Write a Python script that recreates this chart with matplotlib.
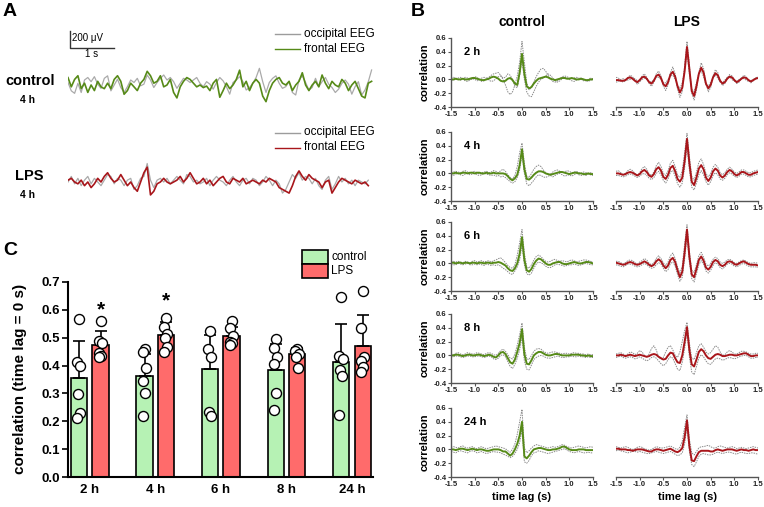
import numpy as np
import matplotlib
matplotlib.use("Agg")
import matplotlib.pyplot as plt
from matplotlib.lines import Line2D
from matplotlib.patches import Rectangle

plt.rcParams["font.family"] = ["Liberation Sans", "DejaVu Sans"]

# ---------------- panel A: 4 h EEG snippets (uV), one sample / 75 ms
dt = 0.075
ctrl_frontal = [89, -22, 67, 111, -44, 22, -89, 0, -67, 44,
                -22, -44, 22, -44, 67, 111, 44, -111, -67, 22,
                -22, -67, 22, 67, 164, 111, 22, 44, 111, -22,
                0, 67, -89, -155, -22, 44, 89, 67, 22, -22,
                0, -31, -13, -67, 22, 67, -147, -67, 22, -44,
                0, 67, 178, -22, 44, -67, 22, 67, 22, -133,
                -200, -67, 22, 67, 89, 22, 0, 44, -67, 0,
                44, 147, 0, -67, 0, 44, -22, 120, 22, -44,
                44, 0, -22, 67, 22, -67, 0, 44, -44, -133,
                -155, 22, 44]
ctrl_occipital = [30, -70, -100, 20, -90, 60, 90, 40, 100, 10,
                  -40, 80, 110, -70, 0, 70, -30, -90, -20, 60,
                  30, 80, -10, 10, 120, 60, -30, 30, 80, 120,
                  60, 90, 40, -40, 20, 80, 60, 30, 60, 90,
                  20, -20, 40, 10, -50, 30, 90, 50, -20, -110,
                  30, 60, 100, 40, -60, -30, 20, 90, 200, 40,
                  -90, 30, 80, 110, 20, -40, -20, 40, -90, -120,
                  60, 110, 30, -60, -30, 80, -20, 40, 90, 10,
                  -30, -90, -50, 20, 60, 10, -110, -20, 40, -120,
                  -60, 40, 180]
lps_frontal = [22, 44, 0, -22, 22, -44, 0, -67, -22, 44,
               0, 67, 111, 44, 0, 22, 89, 22, -44, 0,
               -67, -111, 0, 111, 178, -155, -111, -22, 0, 44,
               0, -22, 0, 22, 67, 0, 44, 111, 44, -22,
               0, 44, -22, 22, -44, 0, 44, 67, 0, -22,
               44, 22, 0, 44, -22, 0, 22, 0, -22, 22,
               0, 44, 22, 0, -67, -89, -111, -133, -44, 67,
               133, 67, 22, 89, 44, 22, 0, -67, 0, 22,
               -133, -67, 0, 44, 22, 0, -22, 22, 0, -22,
               0, -44]
lps_occipital = [0, 67, -22, 44, -44, 22, 67, -22, 44, 0,
                 -44, 22, 89, 67, -22, 44, 22, -44, 22, 44,
                 -89, -44, 44, 67, 222, 22, -67, 22, 44, 0,
                 44, -22, 22, 67, 22, -22, 89, 67, 0, 22,
                 -22, 0, 44, -44, 22, 67, 22, 0, -44, 22,
                 67, 0, -44, 22, 44, -22, 44, 22, -44, 0,
                 67, 22, -44, 22, -22, -133, -89, 0, 89, 44,
                 111, 22, 67, 44, -22, 44, -44, -89, 22, 67,
                 -89, -22, 67, 0, 44, -22, 22, -44, 22, 0,
                 -22, 22]

# ---------------- panel B: cross-correlation, lag -1.5 .. 1.5 s (50 ms steps)
# mean curve + two single animals per panel
ctrl2_mean = [0.00, 0.00, 0.01, 0.00, 0.00, 0.01, 0.00, 0.00, 0.01, 0.02,
              0.02, 0.01, 0.00, -0.01, -0.01, 0.00, 0.01, 0.03, 0.04, 0.03,
              0.01, -0.02, -0.03, -0.02, 0.01, 0.02, -0.01, -0.06, -0.08, 0.10,
              0.37, 0.08, -0.10, -0.13, -0.11, -0.06, -0.02, 0.01, 0.02, 0.03,
              0.04, 0.03, 0.01, 0.00, -0.01, 0.00, 0.01, 0.02, 0.02, 0.01,
              0.01, 0.02, 0.01, 0.00, 0.00, 0.01, 0.00, -0.01, -0.01, 0.00,
              0.00]
ctrl2_a = [0.02, 0.03, 0.02, 0.00, -0.01, 0.01, 0.03, 0.02, 0.00, 0.01,
           0.04, 0.03, 0.00, -0.03, -0.02, 0.01, 0.03, 0.06, 0.08, 0.09,
           0.10, 0.06, 0.00, -0.08, -0.18, -0.22, -0.18, -0.08, 0.05, 0.25,
           0.55, 0.25, -0.05, -0.15, -0.12, -0.04, 0.04, 0.10, 0.15, 0.16,
           0.12, 0.06, 0.01, -0.03, -0.04, -0.02, 0.01, 0.04, 0.05, 0.04,
           0.02, 0.01, 0.02, 0.03, 0.02, 0.00, -0.02, -0.02, 0.00, 0.02,
           0.01]
ctrl2_b = [-0.02, -0.01, 0.00, 0.02, 0.03, 0.01, -0.02, -0.03, -0.01, 0.01,
           0.00, -0.02, -0.01, 0.02, 0.03, 0.02, -0.01, -0.03, -0.02, 0.01,
           0.04, 0.05, 0.02, 0.03, 0.08, 0.06, 0.00, -0.10, -0.12, 0.05,
           0.28, 0.00, -0.18, -0.24, -0.25, -0.18, -0.10, -0.04, 0.00, 0.02,
           0.05, 0.08, 0.06, 0.02, -0.02, -0.04, -0.02, 0.01, 0.03, 0.02,
           0.00, -0.02, -0.03, -0.01, 0.01, 0.02, 0.00, -0.02, -0.03, -0.01,
           0.00]
lps2_mean = [-0.01, -0.01, -0.02, -0.02, -0.01, 0.02, 0.03, 0.01, -0.02, -0.04,
             -0.01, 0.03, 0.04, 0.01, -0.04, -0.06, -0.02, 0.05, 0.07, 0.02,
             -0.07, -0.10, -0.04, 0.07, 0.11, 0.04, -0.10, -0.19, -0.12, 0.12,
             0.47, 0.15, -0.17, -0.24, -0.10, 0.08, 0.17, 0.10, -0.06, -0.13,
             -0.08, 0.03, 0.09, 0.06, -0.02, -0.06, -0.04, 0.01, 0.04, 0.03,
             -0.01, -0.04, -0.02, 0.01, 0.03, 0.02, -0.01, -0.03, -0.01, 0.01,
             0.02]
lps2_a = [0.03, 0.02, -0.02, -0.04, -0.02, 0.03, 0.06, 0.04, -0.02, -0.07,
          -0.04, 0.05, 0.08, 0.03, -0.06, -0.10, -0.04, 0.08, 0.12, 0.05,
          -0.10, -0.16, -0.08, 0.10, 0.18, 0.08, -0.14, -0.26, -0.18, 0.20,
          0.55, 0.22, -0.20, -0.30, -0.16, 0.10, 0.24, 0.16, -0.05, -0.18,
          -0.12, 0.05, 0.14, 0.10, -0.02, -0.09, -0.06, 0.02, 0.07, 0.05,
          0.00, -0.06, -0.04, 0.02, 0.06, 0.04, -0.02, -0.05, -0.02, 0.02,
          0.04]
lps2_b = [-0.04, -0.03, 0.00, 0.01, 0.00, -0.01, 0.00, 0.02, 0.01, -0.02,
          -0.03, 0.00, 0.02, 0.00, -0.03, -0.04, 0.00, 0.03, 0.03, 0.00,
          -0.05, -0.05, 0.00, 0.05, 0.06, 0.00, -0.08, -0.13, -0.05, 0.15,
          0.38, 0.08, -0.14, -0.18, -0.05, 0.09, 0.12, 0.04, -0.08, -0.10,
          -0.04, 0.03, 0.06, 0.02, -0.04, -0.05, -0.01, 0.03, 0.03, 0.00,
          -0.03, -0.03, 0.00, 0.02, 0.01, -0.01, -0.03, -0.02, 0.00, 0.02,
          0.01]

ctrl4_mean = [0.00, 0.00, 0.01, 0.00, 0.00, 0.01, 0.01, 0.00, 0.01, 0.01,
              0.00, 0.01, 0.01, 0.00, 0.00, 0.01, 0.00, 0.00, 0.01, 0.00,
              0.00, 0.00, 0.00, -0.01, -0.04, -0.08, -0.10, -0.07, -0.02, 0.12,
              0.35, 0.06, -0.08, -0.09, -0.06, -0.02, 0.01, 0.03, 0.03, 0.02,
              0.00, -0.01, -0.02, -0.01, 0.00, 0.01, 0.02, 0.02, 0.01, 0.00,
              -0.01, 0.00, 0.01, 0.01, 0.00, 0.00, -0.01, -0.01, 0.00, -0.01,
              -0.01]
ctrl4_a = [0.01, 0.02, 0.03, 0.02, 0.01, 0.03, 0.04, 0.02, 0.00, 0.02,
           0.03, 0.01, -0.01, 0.01, 0.02, 0.03, 0.01, 0.02, 0.04, 0.03,
           0.01, 0.04, 0.06, 0.03, -0.02, -0.06, -0.08, -0.03, 0.10, 0.30,
           0.44, 0.15, -0.04, -0.06, 0.00, 0.06, 0.10, 0.12, 0.10, 0.05,
           0.01, -0.02, -0.01, 0.02, 0.04, 0.05, 0.03, 0.01, 0.02, 0.04,
           0.03, 0.01, 0.02, 0.03, 0.01, 0.00, 0.02, 0.01, 0.00, 0.01,
           0.00]
ctrl4_b = [-0.02, -0.03, -0.01, 0.00, -0.02, -0.03, -0.01, 0.00, -0.02, -0.01,
           0.00, -0.02, -0.03, -0.02, 0.00, -0.01, -0.02, -0.03, -0.02, -0.04,
           -0.03, -0.05, -0.04, -0.06, -0.09, -0.12, -0.14, -0.12, -0.06, 0.05,
           0.28, 0.00, -0.15, -0.18, -0.14, -0.10, -0.05, -0.02, -0.03, -0.05,
           -0.06, -0.04, -0.03, -0.05, -0.03, -0.01, 0.00, -0.02, -0.04, -0.03,
           -0.02, -0.04, -0.02, 0.00, -0.02, -0.03, -0.02, -0.03, -0.01, -0.02,
           -0.03]
lps4_mean = [0.00, 0.00, -0.01, -0.02, -0.01, 0.01, 0.02, 0.01, -0.01, -0.03,
             -0.01, 0.03, 0.05, 0.02, -0.03, -0.05, -0.01, 0.06, 0.09, 0.04,
             -0.05, -0.08, -0.02, 0.08, 0.11, 0.03, -0.08, -0.12, -0.06, 0.18,
             0.50, 0.15, -0.12, -0.17, -0.06, 0.07, 0.12, 0.06, -0.06, -0.11,
             -0.06, 0.03, 0.07, 0.04, -0.03, -0.06, -0.03, 0.02, 0.05, 0.03,
             -0.01, -0.03, -0.01, 0.02, 0.02, 0.00, -0.02, -0.02, 0.00, 0.01,
             0.02]
lps4_a = [0.03, 0.04, 0.01, -0.02, 0.00, 0.04, 0.06, 0.04, 0.00, -0.03,
          0.01, 0.07, 0.10, 0.06, -0.01, -0.03, 0.02, 0.11, 0.16, 0.10,
          0.00, -0.03, 0.04, 0.15, 0.19, 0.10, -0.02, -0.06, 0.04, 0.30,
          0.58, 0.25, -0.04, -0.10, 0.02, 0.16, 0.21, 0.13, 0.00, -0.05,
          0.00, 0.09, 0.13, 0.09, 0.01, -0.02, 0.01, 0.06, 0.09, 0.06,
          0.02, 0.00, 0.02, 0.05, 0.05, 0.03, 0.01, 0.01, 0.03, 0.04,
          0.05]
lps4_b = [-0.03, -0.03, -0.04, -0.05, -0.04, -0.02, -0.01, -0.02, -0.04, -0.06,
          -0.04, -0.01, 0.00, -0.03, -0.07, -0.09, -0.06, 0.00, 0.03, -0.02,
          -0.10, -0.14, -0.08, 0.02, 0.04, -0.04, -0.15, -0.20, -0.14, 0.08,
          0.40, 0.05, -0.20, -0.24, -0.14, -0.02, 0.04, -0.02, -0.12, -0.17,
          -0.12, -0.03, 0.01, -0.02, -0.08, -0.10, -0.07, -0.02, 0.01, -0.01,
          -0.04, -0.06, -0.04, -0.01, -0.01, -0.03, -0.05, -0.05, -0.03, -0.02,
          -0.01]

ctrl6_mean = [0.01, 0.01, 0.00, 0.01, 0.01, 0.00, 0.01, 0.01, 0.00, 0.01,
              0.01, 0.00, 0.01, 0.01, 0.00, 0.01, 0.01, 0.00, 0.01, 0.01,
              0.02, 0.01, -0.01, -0.03, -0.07, -0.10, -0.11, -0.07, 0.00, 0.14,
              0.38, 0.05, -0.10, -0.12, -0.08, -0.01, 0.04, 0.07, 0.06, 0.03,
              0.00, -0.02, -0.02, 0.00, 0.01, 0.02, 0.02, 0.00, -0.01, -0.01,
              0.00, 0.01, 0.02, 0.01, 0.00, 0.00, 0.01, 0.02, 0.02, 0.01,
              0.00]
ctrl6_a = [0.02, 0.03, 0.02, 0.03, 0.02, 0.01, 0.03, 0.02, 0.01, 0.03,
           0.04, 0.02, 0.03, 0.04, 0.02, 0.03, 0.04, 0.02, 0.04, 0.05,
           0.07, 0.08, 0.05, 0.01, -0.03, -0.06, -0.07, -0.02, 0.12, 0.30,
           0.49, 0.15, -0.05, -0.07, -0.02, 0.05, 0.10, 0.12, 0.10, 0.06,
           0.03, 0.02, 0.03, 0.05, 0.06, 0.04, 0.03, 0.04, 0.03, 0.02,
           0.04, 0.05, 0.04, 0.02, 0.03, 0.04, 0.05, 0.05, 0.04, 0.03,
           0.02]
ctrl6_b = [-0.01, -0.02, -0.02, 0.00, -0.01, -0.02, -0.01, 0.00, -0.02, -0.02,
           -0.01, -0.02, -0.01, -0.02, -0.03, -0.01, -0.02, -0.03, -0.02, -0.03,
           -0.02, -0.04, -0.07, -0.09, -0.12, -0.15, -0.16, -0.11, -0.05, 0.05,
           0.27, -0.02, -0.15, -0.17, -0.14, -0.07, -0.01, 0.02, 0.01, -0.01,
           -0.04, -0.06, -0.06, -0.04, -0.02, -0.01, -0.02, -0.03, -0.04, -0.03,
           -0.02, -0.02, -0.01, -0.02, -0.03, -0.02, -0.01, 0.00, -0.01, -0.02,
           -0.02]
lps6_mean = [0.01, 0.00, -0.01, -0.02, -0.01, 0.01, 0.02, 0.01, -0.01, -0.02,
             -0.01, 0.01, 0.03, 0.01, -0.02, -0.04, -0.02, 0.03, 0.06, 0.03,
             -0.03, -0.07, -0.03, 0.05, 0.08, 0.02, -0.10, -0.20, -0.12, 0.16,
             0.49, 0.10, -0.16, -0.20, -0.08, 0.05, 0.10, 0.04, -0.06, -0.09,
             -0.05, 0.02, 0.05, 0.03, -0.02, -0.04, -0.02, 0.02, 0.03, 0.02,
             -0.01, -0.02, 0.00, 0.02, 0.03, 0.01, -0.01, -0.02, -0.02, -0.02,
             -0.03]
lps6_a = [0.03, 0.03, 0.01, -0.01, 0.01, 0.04, 0.05, 0.04, 0.01, -0.01,
          0.02, 0.04, 0.07, 0.05, 0.00, -0.02, 0.01, 0.07, 0.11, 0.07,
          0.01, -0.03, 0.02, 0.11, 0.15, 0.07, -0.05, -0.14, -0.04, 0.28,
          0.56, 0.18, -0.10, -0.13, -0.02, 0.11, 0.16, 0.09, -0.01, -0.04,
          0.00, 0.06, 0.09, 0.07, 0.02, 0.00, 0.02, 0.05, 0.06, 0.04,
          0.01, 0.00, 0.02, 0.04, 0.05, 0.03, 0.01, 0.00, 0.01, 0.01,
          0.00]
lps6_b = [-0.02, -0.03, -0.04, -0.05, -0.03, -0.01, -0.01, -0.02, -0.04, -0.05,
          -0.04, -0.02, 0.00, -0.02, -0.05, -0.07, -0.06, -0.02, 0.01, -0.01,
          -0.07, -0.12, -0.09, 0.00, 0.02, -0.04, -0.16, -0.26, -0.20, 0.06,
          0.40, 0.02, -0.22, -0.27, -0.15, -0.02, 0.04, -0.01, -0.11, -0.14,
          -0.10, -0.03, 0.01, -0.01, -0.06, -0.08, -0.05, -0.01, 0.00, -0.01,
          -0.04, -0.05, -0.03, -0.01, 0.00, -0.02, -0.04, -0.05, -0.05, -0.05,
          -0.06]

ctrl8_mean = [0.00, 0.00, 0.01, 0.01, 0.00, -0.01, 0.00, 0.01, 0.01, 0.00,
              0.00, 0.01, 0.01, 0.00, -0.01, 0.00, 0.01, 0.00, -0.02, -0.03,
              0.00, 0.04, 0.05, 0.02, -0.04, -0.10, -0.12, -0.06, 0.05, 0.18,
              0.38, 0.02, -0.12, -0.13, -0.07, 0.00, 0.03, 0.05, 0.05, 0.03,
              0.01, 0.00, 0.00, 0.01, 0.02, 0.02, 0.01, 0.00, 0.00, 0.00,
              0.00, 0.01, 0.01, 0.01, 0.01, 0.00, 0.00, -0.01, 0.00, -0.01,
              -0.01]
ctrl8_a = [0.02, 0.01, 0.03, 0.04, 0.02, 0.01, 0.02, 0.04, 0.03, 0.02,
           0.02, 0.04, 0.03, 0.02, 0.01, 0.03, 0.04, 0.03, 0.01, 0.00,
           0.03, 0.07, 0.09, 0.06, 0.01, -0.04, -0.05, 0.02, 0.15, 0.30,
           0.47, 0.12, -0.05, -0.06, 0.00, 0.06, 0.09, 0.10, 0.09, 0.06,
           0.04, 0.03, 0.04, 0.05, 0.05, 0.04, 0.03, 0.02, 0.03, 0.03,
           0.02, 0.03, 0.04, 0.03, 0.03, 0.02, 0.02, 0.01, 0.02, 0.01,
           0.01]
ctrl8_b = [-0.02, -0.02, -0.01, -0.01, -0.02, -0.03, -0.02, -0.01, -0.01, -0.02,
           -0.02, -0.01, -0.01, -0.02, -0.03, -0.02, -0.01, -0.02, -0.05, -0.06,
           -0.04, 0.00, 0.01, -0.02, -0.09, -0.16, -0.19, -0.13, -0.04, 0.08,
           0.27, -0.08, -0.20, -0.21, -0.14, -0.06, -0.03, -0.01, 0.00, -0.01,
           -0.03, -0.04, -0.04, -0.03, -0.02, -0.01, -0.02, -0.03, -0.03, -0.02,
           -0.02, -0.01, -0.02, -0.02, -0.01, -0.02, -0.02, -0.03, -0.02, -0.03,
           -0.03]
lps8_mean = [0.00, 0.00, 0.01, 0.00, -0.01, 0.00, 0.01, 0.00, -0.01, 0.00,
             0.01, 0.00, -0.01, -0.02, -0.01, 0.01, 0.02, 0.01, -0.02, -0.04,
             -0.06, -0.05, 0.00, 0.04, 0.03, -0.04, -0.10, -0.11, 0.00, 0.20,
             0.41, 0.08, -0.13, -0.16, -0.06, 0.05, 0.09, 0.06, 0.00, -0.04,
             -0.05, -0.02, 0.01, 0.02, 0.01, -0.01, -0.01, 0.00, 0.01, 0.01,
             0.00, 0.00, 0.01, 0.02, 0.03, 0.03, 0.01, -0.01, -0.01, 0.00,
             0.00]
lps8_a = [0.02, 0.03, 0.04, 0.02, 0.00, 0.02, 0.05, 0.04, 0.01, 0.03,
          0.07, 0.05, 0.00, -0.03, 0.02, 0.10, 0.14, 0.08, -0.02, -0.06,
          -0.03, 0.05, 0.12, 0.14, 0.08, 0.00, -0.03, 0.05, 0.20, 0.36,
          0.48, 0.18, -0.04, -0.06, 0.04, 0.14, 0.17, 0.12, 0.05, 0.02,
          0.04, 0.09, 0.14, 0.12, 0.05, 0.00, 0.01, 0.05, 0.07, 0.05,
          0.02, 0.02, 0.04, 0.06, 0.06, 0.05, 0.03, 0.02, 0.02, 0.03,
          0.03]
lps8_b = [-0.03, -0.02, -0.01, -0.03, -0.04, -0.03, -0.02, -0.03, -0.05, -0.04,
          -0.02, -0.04, -0.06, -0.08, -0.06, -0.03, -0.02, -0.04, -0.08, -0.12,
          -0.15, -0.12, -0.06, -0.02, -0.04, -0.12, -0.20, -0.22, -0.10, 0.10,
          0.34, -0.02, -0.24, -0.28, -0.16, -0.04, 0.01, -0.02, -0.08, -0.12,
          -0.13, -0.09, -0.05, -0.04, -0.05, -0.07, -0.06, -0.04, -0.03, -0.04,
          -0.05, -0.04, -0.02, -0.01, 0.00, 0.00, -0.02, -0.04, -0.04, -0.03,
          -0.03]

ctrl24_mean = [0.00, 0.00, -0.01, 0.00, 0.01, 0.01, 0.00, -0.01, 0.00, 0.01,
               0.00, -0.01, 0.00, 0.00, -0.01, -0.02, -0.02, -0.01, 0.00, 0.00,
               0.00, -0.01, -0.03, -0.03, -0.06, -0.09, -0.06, 0.00, 0.08, 0.20,
               0.40, -0.10, -0.13, -0.09, -0.04, 0.00, 0.01, 0.02, 0.02, 0.01,
               0.00, -0.01, -0.01, 0.00, 0.00, 0.01, 0.02, 0.04, 0.04, 0.02,
               0.00, -0.01, -0.01, -0.01, 0.00, 0.00, 0.00, -0.01, -0.01, -0.01,
               -0.01]
ctrl24_a = [0.03, 0.04, 0.03, 0.02, 0.04, 0.05, 0.03, 0.02, 0.03, 0.04,
            0.02, 0.01, 0.03, 0.04, 0.02, 0.01, 0.02, 0.03, 0.04, 0.05,
            0.04, 0.03, 0.02, 0.01, -0.02, -0.04, 0.00, 0.08, 0.22, 0.40,
            0.58, 0.02, -0.05, -0.02, 0.02, 0.05, 0.07, 0.06, 0.05, 0.04,
            0.03, 0.02, 0.03, 0.04, 0.03, 0.04, 0.05, 0.07, 0.06, 0.04,
            0.03, 0.02, 0.03, 0.04, 0.05, 0.04, 0.03, 0.02, 0.03, 0.04,
            0.03]
ctrl24_b = [-0.03, -0.04, -0.05, -0.03, -0.02, -0.03, -0.04, -0.05, -0.03, -0.02,
            -0.03, -0.05, -0.04, -0.03, -0.05, -0.06, -0.05, -0.04, -0.03, -0.04,
            -0.04, -0.05, -0.07, -0.08, -0.10, -0.12, -0.10, -0.06, 0.00, 0.10,
            0.28, -0.18, -0.20, -0.16, -0.09, -0.05, -0.04, -0.02, -0.03, -0.04,
            -0.05, -0.06, -0.05, -0.04, -0.03, -0.02, -0.01, 0.00, 0.01, -0.01,
            -0.03, -0.04, -0.05, -0.04, -0.03, -0.04, -0.05, -0.05, -0.04, -0.05,
            -0.05]
lps24_mean = [0.01, 0.01, 0.00, 0.00, 0.00, -0.01, -0.01, -0.02, -0.01, 0.00,
              0.00, 0.00, -0.01, -0.02, -0.03, -0.03, -0.01, 0.00, 0.00, -0.01,
              -0.02, -0.01, 0.00, 0.01, -0.01, -0.03, -0.04, -0.02, 0.02, 0.18,
              0.42, 0.05, -0.16, -0.17, -0.10, -0.04, -0.02, -0.02, -0.02, -0.02,
              -0.03, -0.03, -0.01, 0.00, -0.01, -0.02, -0.01, 0.00, 0.00, 0.00,
              -0.01, -0.02, -0.01, 0.00, -0.01, -0.01, -0.02, -0.01, 0.00, -0.01,
              -0.01]
lps24_a = [0.04, 0.03, 0.02, 0.03, 0.04, 0.03, 0.01, 0.00, 0.01, 0.03,
           0.04, 0.03, 0.01, 0.00, -0.01, 0.00, 0.02, 0.04, 0.03, 0.02,
           0.02, 0.03, 0.04, 0.05, 0.03, 0.01, 0.00, 0.03, 0.12, 0.32,
           0.50, 0.15, -0.05, -0.08, -0.03, 0.02, 0.04, 0.04, 0.05, 0.06,
           0.04, 0.02, 0.02, 0.04, 0.05, 0.04, 0.03, 0.02, 0.03, 0.04,
           0.03, 0.01, 0.02, 0.03, 0.02, 0.01, 0.02, 0.03, 0.04, 0.03,
           0.02]
lps24_b = [-0.02, -0.01, -0.02, -0.03, -0.04, -0.05, -0.04, -0.03, -0.03, -0.04,
           -0.03, -0.04, -0.05, -0.06, -0.06, -0.05, -0.04, -0.03, -0.04, -0.05,
           -0.06, -0.05, -0.04, -0.03, -0.05, -0.07, -0.09, -0.08, -0.05, 0.08,
           0.34, -0.03, -0.22, -0.25, -0.18, -0.10, -0.07, -0.06, -0.07, -0.08,
           -0.08, -0.07, -0.05, -0.04, -0.05, -0.06, -0.05, -0.04, -0.04, -0.05,
           -0.06, -0.07, -0.05, -0.04, -0.05, -0.06, -0.06, -0.05, -0.05, -0.06,
           -0.07]

# ---------------- panel C: correlation at lag 0
hours = ["2 h", "4 h", "6 h", "8 h", "24 h"]
ctrl_mean = [0.355, 0.362, 0.386, 0.385, 0.413]
lps_mean = [0.473, 0.511, 0.505, 0.443, 0.471]
ctrl_sd = [0.135, 0.080, 0.122, 0.091, 0.137]
lps_sd = [0.052, 0.046, 0.035, 0.020, 0.112]
ctrl_pts = [[0.568, 0.413, 0.400, 0.299, 0.230, 0.213],
            [0.460, 0.450, 0.390, 0.345, 0.300, 0.220],
            [0.524, 0.458, 0.430, 0.233, 0.218],
            [0.494, 0.464, 0.430, 0.405, 0.300, 0.240],
            [0.646, 0.433, 0.425, 0.383, 0.363, 0.222]]
lps_pts = [[0.560, 0.490, 0.480, 0.445, 0.435, 0.430],
           [0.572, 0.540, 0.515, 0.500, 0.467, 0.447],
           [0.560, 0.535, 0.506, 0.485, 0.480, 0.475],
           [0.460, 0.452, 0.443, 0.430, 0.390],
           [0.668, 0.535, 0.430, 0.416, 0.395, 0.377]]
signif = [True, True, False, False, False]

# ---------------- style
W, H = 764, 507
GREEN, RED = "#568a18", "#a8161b"
GRAY = "#9c9c9c"
BAR_G, BAR_R = "#b6f2b4", "#ff6b6b"

fig = plt.figure(figsize=(W / 100, H / 100), dpi=100)
fx = lambda x: x / W
fy = lambda y: 1 - y / H
px_axes = lambda l, t, r, b: fig.add_axes([l / W, 1 - b / H, (r - l) / W, (b - t) / H])

for s, x, y in [("A", 3, 12), ("B", 411, 12), ("C", 3, 250)]:
    fig.text(fx(x), fy(y), s, fontsize=14, fontweight="bold", va="center")

# ===== A
UVPX = 12.0                       # uV per pixel
axA = px_axes(68, 20, 376, 205)
axA.set_xlim(0, 308 / 44)
axA.set_ylim(-(205 - 85) * UVPX, (85 - 20) * UVPX)
axA.axis("off")
lps_off = -(182 - 85) * UVPX
for occ, fro, off, col in [(ctrl_occipital, ctrl_frontal, 0, GREEN),
                           (lps_occipital, lps_frontal, lps_off, RED)]:
    axA.plot(np.arange(len(occ)) * dt, np.asarray(occ) + off, color="#aaaaaa", lw=0.9)
    axA.plot(np.arange(len(fro)) * dt, np.asarray(fro) + off, color=col, lw=1.2)
# scale bar 200 uV / 1 s
x0, y0 = 2 / 44, (85 - 47.5) * UVPX
axA.plot([x0, x0, x0 + 1], [y0 + 200, y0, y0], color="#333333", lw=1)
fig.text(fx(72.5), fy(38), "200 μV", fontsize=7, va="center")
fig.text(fx(92), fy(54), "1 s", fontsize=7, va="center", ha="center")

for y, col, lab in [(34, GRAY, "occipital EEG"), (49, GREEN, "frontal EEG"),
                    (132.5, GRAY, "occipital EEG"), (147.5, RED, "frontal EEG")]:
    fig.add_artist(Line2D([fx(275), fx(300)], [fy(y), fy(y)], color=col, lw=1))
    fig.text(fx(304), fy(y), lab, fontsize=8.5, va="center")
fig.text(fx(5), fy(81), "control", fontsize=10.5, fontweight="bold", va="center")
fig.text(fx(20), fy(100), "4 h", fontsize=7.5, fontweight="bold", va="center")
fig.text(fx(15), fy(176), "LPS", fontsize=10.5, fontweight="bold", va="center")
fig.text(fx(20), fy(195), "4 h", fontsize=7.5, fontweight="bold", va="center")

# ===== B
rows = [("2 h", ctrl2_mean, ctrl2_a, ctrl2_b, lps2_mean, lps2_a, lps2_b),
        ("4 h", ctrl4_mean, ctrl4_a, ctrl4_b, lps4_mean, lps4_a, lps4_b),
        ("6 h", ctrl6_mean, ctrl6_a, ctrl6_b, lps6_mean, lps6_a, lps6_b),
        ("8 h", ctrl8_mean, ctrl8_a, ctrl8_b, lps8_mean, lps8_a, lps8_b),
        ("24 h", ctrl24_mean, ctrl24_a, ctrl24_b, lps24_mean, lps24_a, lps24_b)]
bottoms = [107, 201, 291, 383, 477]
AX_C = "#555555"
for (lab, cm, ca, cb, lm, la, lb), bot in zip(rows, bottoms):
    for left, m, a, b, col, first in [(451, cm, ca, cb, GREEN, True),
                                      (616, lm, la, lb, RED, False)]:
        ax = px_axes(left, bot - 69, left + 142, bot)
        lag = np.round(-1.5 + 0.05 * np.arange(len(m)), 2)
        for g in (a, b):
            ax.plot(lag, g, color="#8a8a8a", lw=0.7, ls=(0, (1.5, 1)))
        ax.plot(lag, m, color=col, lw=1.4)
        ax.set_xlim(-1.5, 1.5)
        ax.set_ylim(-0.4, 0.6)
        xt = np.arange(-1.5, 1.51, 0.5)
        ax.set_xticks(xt, [f"{abs(v):.1f}" if abs(v) < 1e-9 else f"{v:.1f}" for v in xt])
        for s in ("top", "right"):
            ax.spines[s].set_visible(False)
        for s in ("left", "bottom"):
            ax.spines[s].set_color(AX_C)
            ax.spines[s].set_linewidth(1.0)
        ax.tick_params(length=2, width=0.8, color=AX_C, labelsize=5.5, pad=1,
                       labelcolor="#222222")
        for t in ax.get_xticklabels() + ax.get_yticklabels():
            t.set_fontweight("bold")
        if first:
            yt = np.arange(-0.4, 0.61, 0.2)
            ax.set_yticks(yt, [f"{v:.1f}" if abs(v) > 1e-9 else "0.0" for v in yt])
            for t in ax.get_yticklabels():
                t.set_fontweight("bold")
            ax.text(0.09, 0.79, lab, transform=ax.transAxes, fontsize=8,
                    fontweight="bold", va="center")
            fig.text(fx(425), fy(bot - 34.5), "correlation", rotation=90, fontsize=8,
                     fontweight="bold", va="center", ha="center")
        else:
            ax.spines["left"].set_visible(False)
            ax.set_yticks([])
        ax.patch.set_alpha(0)
fig.text(fx(522), fy(22), "control", fontsize=10, fontweight="bold", ha="center", va="center")
fig.text(fx(687), fy(22), "LPS", fontsize=10, fontweight="bold", ha="center", va="center")
for x in (521, 687):
    fig.text(fx(x), fy(497), "time lag (s)", fontsize=8, fontweight="bold", ha="center", va="center")

# ===== C
axC = px_axes(68, 282, 373, 477)
x = np.arange(len(hours))
off, bw = 0.164, 0.25
jit = [0.0, -0.03, 0.02, -0.02, 0.01, -0.03]
for means, sds, pts, sgn, col in [(ctrl_mean, ctrl_sd, ctrl_pts, -1, BAR_G),
                                  (lps_mean, lps_sd, lps_pts, 1, BAR_R)]:
    xp = x + sgn * off
    axC.bar(xp, means, bw, color=col, edgecolor="black", lw=1.2, zorder=2)
    axC.errorbar(xp, means, yerr=[np.zeros(len(sds)), sds], fmt="none",
                 ecolor="black", elinewidth=1.2, capsize=4, capthick=1.2, zorder=3)
    for xi, p in zip(xp, pts):
        axC.scatter(xi + np.array(jit[:len(p)]), p, s=52, facecolor="white",
                    edgecolor="black", lw=1, zorder=4, clip_on=False)
for xi, s, m, sd in zip(x, signif, lps_mean, lps_sd):
    if s:
        axC.text(xi + off, m + sd + 0.075, "*", fontsize=15, fontweight="bold",
                 ha="center", va="center")
axC.set_xlim(-0.332, 4.32)
axC.set_ylim(0, 0.7)
axC.set_yticks(np.arange(0, 0.71, 0.1), [f"{v:.1f}" for v in np.arange(0, 0.71, 0.1)])
axC.set_xticks(x, hours)
for s in ("top", "right"):
    axC.spines[s].set_visible(False)
for s in ("left", "bottom"):
    axC.spines[s].set_linewidth(1.5)
axC.tick_params(axis="y", length=4, width=1.2, labelsize=9.5, pad=2)
axC.tick_params(axis="x", length=0, labelsize=9.5, pad=5)
for t in axC.get_xticklabels() + axC.get_yticklabels():
    t.set_fontweight("bold")
fig.text(fx(20), fy(379), "correlation (time lag = 0 s)", rotation=90, fontsize=11,
         fontweight="bold", ha="center", va="center")
for y0_, y1_, col, lab in [(250, 263.5, BAR_G, "control"), (264, 278, BAR_R, "LPS")]:
    fig.add_artist(Rectangle((fx(302), fy(y1_)), fx(328) - fx(302), fy(y0_) - fy(y1_),
                             facecolor=col, edgecolor="black", lw=1.2, transform=fig.transFigure))
    fig.text(fx(331), fy((y0_ + y1_) / 2), lab, fontsize=8.5, va="center")

fig.savefig("out.png", dpi=100)
